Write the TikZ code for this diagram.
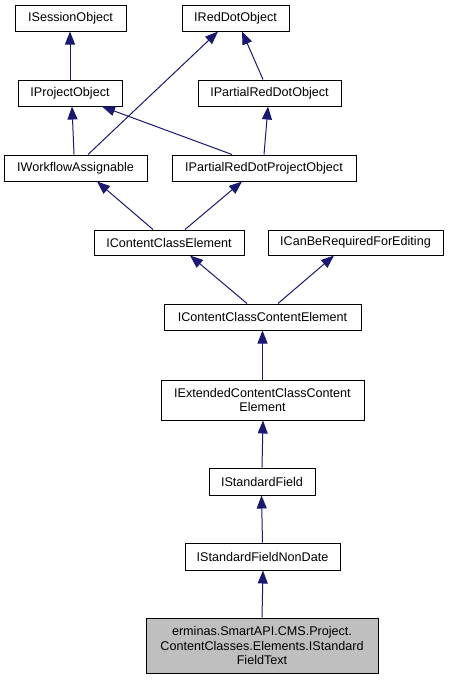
\documentclass[tikz,border=0pt]{standalone}
\usepackage{fontspec}
\setmainfont{Liberation Sans}
\usetikzlibrary{arrows.meta}
\definecolor{edgeblue}{HTML}{191970}
\definecolor{hilite}{HTML}{BFBFBF}
\tikzset{
  cls/.style={draw=black, line width=1pt, rectangle, inner sep=0pt, fill=white,
    font=\fontsize{12.6}{14.3}\selectfont, align=center},
  edge/.style={draw=edgeblue, line width=1pt, -{Triangle[length=13pt,width=10pt]}}
}
\begin{document}
\begin{tikzpicture}[x=1pt,y=-1pt]
\useasboundingbox (0,0) rectangle (449,680);
\node[cls, minimum width=111pt, minimum height=26pt] (so) at (70.5,18) {ISessionObject};
\node[cls, minimum width=107pt, minimum height=26pt] (rdo) at (235.5,18) {IRedDotObject};
\node[cls, minimum width=104pt, minimum height=26pt] (po) at (70,93) {IProjectObject};
\node[cls, minimum width=143pt, minimum height=26pt] (prdo) at (269.5,93) {IPartialRedDotObject};
\node[cls, minimum width=143pt, minimum height=26pt] (wa) at (75.5,168) {IWorkflowAssignable};
\node[cls, minimum width=184pt, minimum height=26pt] (prdpo) at (264,168) {IPartialRedDotProjectObject};
\node[cls, minimum width=150pt, minimum height=25pt] (cce) at (169,242.5) {IContentClassElement};
\node[cls, minimum width=175pt, minimum height=25pt] (cbr) at (355.5,242.5) {ICanBeRequiredForEditing};
\node[cls, minimum width=197pt, minimum height=26pt] (ccce) at (262.5,317) {IContentClassContentElement};
\node[cls, minimum width=203pt, minimum height=40pt] (ext) at (262.5,400) {IExtendedContentClassContent\\Element};
\node[cls, minimum width=106pt, minimum height=27pt] (sf) at (262,481.5) {IStandardField};
\node[cls, minimum width=155pt, minimum height=27pt] (sfnd) at (262.5,556.5) {IStandardFieldNonDate};
\node[cls, fill=hilite, minimum width=232pt, minimum height=55pt] (txt) at (262,645.5) {erminas.SmartAPI.CMS.Project.\\ContentClasses.Elements.IStandard\\FieldText};

\draw[edge] (po.north) -- ([xshift=-0.5]so.south);
\draw[edge] ([xshift=12.5]wa.north) -- ([xshift=-17.5]rdo.south);
\draw[edge] ([xshift=-6.5]prdo.north) -- ([xshift=6.5]rdo.south);
\draw[edge] ([xshift=-1.5]wa.north) -- ([xshift=2]po.south);
\draw[edge] ([xshift=-32]prdpo.north) -- ([xshift=32]po.south);
\draw[edge] (prdpo.north) -- ([xshift=-1.5]prdo.south);
\draw[edge] ([xshift=-16]cce.north) -- ([xshift=21.5]wa.south);
\draw[edge] ([xshift=16]cce.north) -- ([xshift=-22]prdpo.south);
\draw[edge] ([xshift=-15.5]ccce.north) -- ([xshift=21]cce.south);
\draw[edge] ([xshift=15.5]ccce.north) -- ([xshift=-21.5]cbr.south);
\draw[edge] (ext.north) -- (ccce.south);
\draw[edge] (sf.north) -- ([xshift=0.5]ext.south);
\draw[edge] (sfnd.north) -- ([xshift=-0.5]sf.south);
\draw[edge] (txt.north) -- ([xshift=0.5]sfnd.south);
\end{tikzpicture}
\end{document}
